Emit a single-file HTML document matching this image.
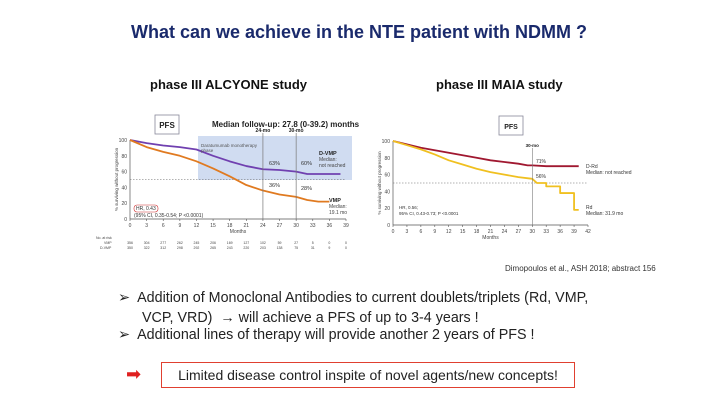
<!DOCTYPE html>
<html><head><meta charset="utf-8"><style>
body{margin:0;width:718px;height:401px;background:#fff;font-family:"Liberation Sans",sans-serif;overflow:hidden;position:relative}
.t{position:absolute;white-space:nowrap}
</style></head><body>
<div class="t" style="left:0;width:718px;top:22px;text-align:center;font-size:18px;font-weight:bold;color:#1a2a6c">What can we achieve in the NTE patient with NDMM ?</div>
<div class="t" style="left:150px;top:77px;font-size:13px;font-weight:bold;color:#111">phase III ALCYONE study</div>
<div class="t" style="left:436px;top:77px;font-size:13px;font-weight:bold;color:#111">phase III MAIA study</div>
<svg width="718" height="401" style="position:absolute;left:0;top:0" id="svg" font-family="Liberation Sans, sans-serif"></svg>
<div class="t" style="left:505px;top:264px;font-size:8px;color:#333">Dimopoulos et al., ASH 2018; abstract 156</div>
<div class="t" style="left:118px;top:288px;font-size:14.3px;color:#222;line-height:20px">➢&nbsp; Addition of Monoclonal Antibodies to current doublets/triplets (Rd, VMP,<br><span style="padding-left:24px">VCP, VRD)&nbsp; → will achieve a PFS of up to 3-4 years !</span></div>
<div class="t" style="left:118px;top:327px;font-size:14.3px;color:#222">➢&nbsp; Additional lines of therapy will provide another 2 years of PFS !</div>
<div class="t" style="left:126px;top:364px;font-size:18px;color:#e02020">➡</div>
<div class="t" style="left:161px;top:362px;width:412px;height:24px;border:1.5px solid #e04030;text-align:center;line-height:24px;font-size:14px;color:#222">Limited disease control inspite of novel agents/new concepts!</div>
<script>
const alcMonths=[0,3,6,9,12,15,18,21,24,27,30,32,34,36,38];
const dvmp=[100,96,93,91,88,80,73,67,63,62,60,57,57,57,57];
const vmpMonths=[0,3,6,9,12,15,18,21,24,27,30,32,34,36];
const vmp=[100,91,85,80,73,64,54,43,36,31,28,24,22,22];
const alcTicks=[0,3,6,9,12,15,18,21,24,27,30,33,36,39];
const yTicks=[0,20,40,60,80,100];
const maiaMonths=[0,3,6,9,12,15,18,21,24,27,29,30,33,36,40];
const drd=[100,96,92,89,86,83,80,77,75,73,71,71,70,70,70];
const rdMonths=[0,3,6,9,12,15,18,21,24,27,30,31,33,33,34,36,36,39,39,40];
const rd=[100,95,90,84,77,72,67,63,60,57,55,50,50,46,46,46,38,38,18,18];
const maiaTicks=[0,3,6,9,12,15,18,21,24,27,30,33,36,39,42];
const vmpRisk=[356,304,277,262,245,206,169,127,102,59,27,5,0,0];
const dvmpRisk=[350,322,312,298,292,265,243,220,203,138,75,31,9,0];
const NS="http://www.w3.org/2000/svg";
const svg=document.getElementById('svg');
function el(tag,a,txt){const e=document.createElementNS(NS,tag);for(const k in a)e.setAttribute(k,a[k]);if(txt!==undefined)e.textContent=txt;svg.appendChild(e);return e;}
function chart(o){
 const X=m=>o.x0+(o.x1-o.x0)*m/o.xmax, Y=v=>o.y0+(o.y1-o.y0)*v/100;
 let ax=el('line',{x1:X(0),y1:Y(0),x2:X(o.xmax),y2:Y(0),stroke:'#555','stroke-width':0.7});
 
 let ay=el('line',{x1:X(0),y1:Y(0),x2:X(0),y2:Y(100),stroke:'#555','stroke-width':0.7});
 
 o.ticks.forEach(t=>{el('line',{x1:X(t),y1:Y(0),x2:X(t),y2:Y(0)+2,stroke:'#555','stroke-width':0.6});
  let tl=el('text',{x:X(t),y:Y(0)+8,'font-size':5,'text-anchor':'middle',fill:'#444'},t);
  });
 yTicks.forEach(t=>{let tl=el('text',{x:X(0)-3,y:Y(t)+2,'font-size':5,'text-anchor':'end',fill:'#444'},t);
  });
 let xt=el('text',{x:(X(0)+X(o.xmax))/2,y:Y(0)+14,'font-size':5,'text-anchor':'middle',fill:'#444'},'Months');
 
 let yt=el('text',{x:0,y:0,'font-size':4.5,'text-anchor':'middle',fill:'#444',transform:`translate(${X(0)-12},${Y(50)}) rotate(-90)`},'% surviving without progression');
 
 let ref=el('line',{x1:X(0),y1:Y(50),x2:X(o.xmax),y2:Y(50),stroke:'#666','stroke-width':0.6,'stroke-dasharray':'1.5,1.5'});
 
 o.series.forEach(s=>{let d='M'+X(s.m[0])+','+Y(s.v[0]);
  for(let i=1;i<s.m.length;i++)d+=' L'+X(s.m[i])+','+Y(s.v[i]);
  let p=el('path',{d:d,fill:'none',stroke:s.c,'stroke-width':1.8,'stroke-linejoin':'round'});
  });
 return {X,Y};
}
let sh=el('rect',{x:198,y:136,width:154,height:44,fill:'#c8d6ee',opacity:0.85});

let A=chart({p:'alcyone',x0:130,x1:346,xmax:39,y0:219,y1:140,ticks:alcTicks,series:[{m:alcMonths,v:dvmp,c:'#7040b0',n:'dvmp-curve'},{m:vmpMonths,v:vmp,c:'#e07a20',n:'vmp-curve'}]});
[24,30].forEach(t=>{el('line',{x1:A.X(t),y1:133,x2:A.X(t),y2:A.Y(0),stroke:'#777','stroke-width':0.7});});
el('text',{x:A.X(24),y:132,'font-size':5,'font-weight':'bold','text-anchor':'middle',fill:'#222'},'24-mo');
el('text',{x:A.X(30),y:132,'font-size':5,'font-weight':'bold','text-anchor':'middle',fill:'#222'},'30-mo');
el('rect',{x:155,y:115,width:24,height:19,fill:'#fff',stroke:'#889','stroke-width':0.8});
el('text',{x:167,y:128,'font-size':8,'font-weight':'bold','text-anchor':'middle',fill:'#222'},'PFS');
el('text',{x:212,y:127,'font-size':8,'font-weight':'bold',fill:'#222'},'Median follow-up: 27.8 (0-39.2) months');
el('text',{x:201,y:147,'font-size':4.5,fill:'#555'},'Daratumumab monotherapy');
el('text',{x:201,y:152,'font-size':4.5,fill:'#555'},'phase');
[['63%',269,165],['60%',301,165],['36%',269,187],['28%',301,190]].forEach(a=>el('text',{x:a[1],y:a[2],'font-size':5.5,fill:'#333'},a[0]));
el('text',{x:319,y:155,'font-size':5.5,'font-weight':'bold',fill:'#222'},'D-VMP');
el('text',{x:319,y:161,'font-size':5,fill:'#444'},'Median:');
el('text',{x:319,y:167,'font-size':5,fill:'#444'},'not reached');
el('text',{x:329,y:202,'font-size':5.5,'font-weight':'bold',fill:'#222'},'VMP');
el('text',{x:329,y:208,'font-size':5,fill:'#444'},'Median:');
el('text',{x:329,y:214,'font-size':5,fill:'#444'},'19.1 mo');
el('rect',{x:134,y:205,width:24,height:7,rx:3,fill:'none',stroke:'#d03030','stroke-width':0.6});
el('text',{x:136,y:210,'font-size':5,fill:'#333'},'HR, 0.43');
el('text',{x:134,y:217,'font-size':5,fill:'#333'},'(95% CI, 0.35-0.54; P <0.0001)');
el('text',{x:96,y:239,'font-size':3.5,fill:'#444'},'No. at risk');
el('text',{x:104,y:244,'font-size':3.5,fill:'#444'},'VMP');
el('text',{x:100,y:249,'font-size':3.5,fill:'#444'},'D-VMP');
vmpRisk.forEach((r,i)=>el('text',{x:A.X(alcTicks[i]),y:244,'font-size':3.5,'text-anchor':'middle',fill:'#444'},r));
dvmpRisk.forEach((r,i)=>el('text',{x:A.X(alcTicks[i]),y:249,'font-size':3.5,'text-anchor':'middle',fill:'#444'},r));
let B=chart({p:'maia',x0:393,x1:588,xmax:42,y0:225,y1:141,ticks:maiaTicks,series:[{m:maiaMonths,v:drd,c:'#a01830',n:'drd-curve'},{m:rdMonths,v:rd,c:'#f0c020',n:'rd-curve'}]});
el('line',{x1:B.X(30),y1:148,x2:B.X(30),y2:B.Y(0),stroke:'#777','stroke-width':0.6});
el('text',{x:B.X(30),y:147,'font-size':4.5,'font-weight':'bold','text-anchor':'middle',fill:'#222'},'30-mo');
el('rect',{x:499,y:116,width:24,height:19,fill:'#fff',stroke:'#889','stroke-width':0.8});
el('text',{x:511,y:129,'font-size':7,'font-weight':'bold','text-anchor':'middle',fill:'#222'},'PFS');
el('text',{x:536,y:163,'font-size':5,fill:'#333'},'71%');
el('text',{x:536,y:178,'font-size':5,fill:'#333'},'56%');
el('text',{x:586,y:168,'font-size':5,fill:'#333'},'D-Rd');
el('text',{x:586,y:174,'font-size':5,fill:'#333'},'Median: not reached');
el('text',{x:586,y:209,'font-size':5,fill:'#333'},'Rd');
el('text',{x:586,y:215,'font-size':5,fill:'#333'},'Median: 31.9 mo');
el('text',{x:399,y:209,'font-size':4.5,fill:'#333'},'HR, 0.56;');
el('text',{x:399,y:215,'font-size':4.5,fill:'#333'},'95% CI, 0.43-0.73; P <0.0001');
</script>
</body></html>
